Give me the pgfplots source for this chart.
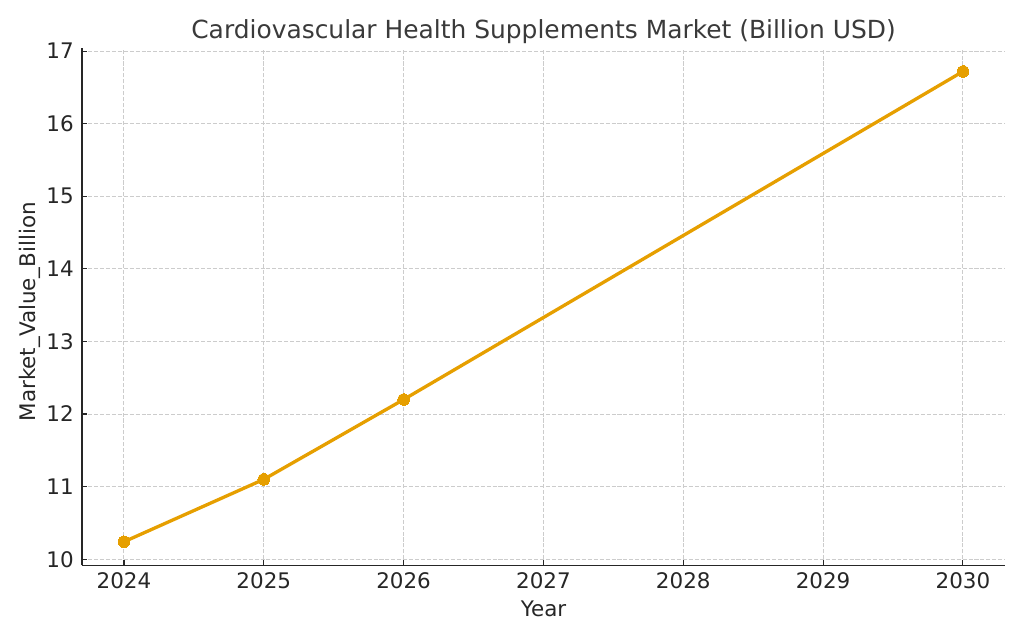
\documentclass[border=0pt]{standalone}
\usepackage{fontspec}
\setmainfont{DejaVu Sans}
\usepackage{pgfplots}
\pgfplotsset{compat=1.18}
\definecolor{lineorange}{HTML}{E69F00}
\definecolor{txt}{HTML}{262626}
\definecolor{titletxt}{HTML}{3A3A3A}
\definecolor{gridc}{HTML}{CCCCCC}
\begin{document}
\begin{tikzpicture}
  % canvas of the reference, 1px = 0.01in
  \useasboundingbox (0,0) rectangle (10.24in,6.4in);
  \begin{axis}[
    at={(0.82in,0.747in)}, anchor=south west,
    scale only axis,
    width=9.23in, height=5.174in,
    xmin=2023.7, xmax=2030.3,
    ymin=9.916, ymax=17.044,
    xtick={2024,...,2030},
    ytick={10,...,17},
    /pgf/number format/assume math mode=true,
    x tick label style={/pgf/number format/1000 sep={}},
    axis x line*=bottom, axis y line*=left,
    axis line style={-, black!85, line width=0.9pt},
    tick align=inside,
    major tick length=0.05in,
    tick style={black!85, line width=0.8pt},
    tick label style={font=\fontsize{15.5}{18}\selectfont, text=txt, inner sep=0pt},
    xticklabel style={anchor=base, yshift=-0.23in},
    yticklabel style={anchor=east, xshift=-0.08in},
    grid=major,
    major grid style={gridc, line width=0.7pt, dash pattern=on 2.9pt off 1.4pt},
    title={Cardiovascular Health Supplements Market (Billion USD)},
    title style={at={(0.5,1)}, anchor=base, yshift=0.01in,
      font=\fontsize{18}{21}\selectfont, text=titletxt, inner sep=0pt},
    xlabel={Year},
    xlabel style={at={(axis description cs:0.5,-0.098)}, anchor=base,
      font=\fontsize{15.5}{18}\selectfont, text=txt, inner sep=0pt},
    ylabel={Market\_Value\_Billion},
    ylabel style={at={(axis description cs:-0.0563,0.49)}, anchor=center,
      font=\fontsize{15.5}{18}\selectfont, text=txt, inner sep=0pt},
  ]
    \addplot[lineorange, line width=2.4pt, mark=*, mark size=4.2pt,
      mark options={fill=lineorange, draw=lineorange, line width=0pt}]
      coordinates {(2024,10.24) (2025,11.10) (2026,12.20) (2030,16.72)};
  \end{axis}
\end{tikzpicture}
\end{document}
